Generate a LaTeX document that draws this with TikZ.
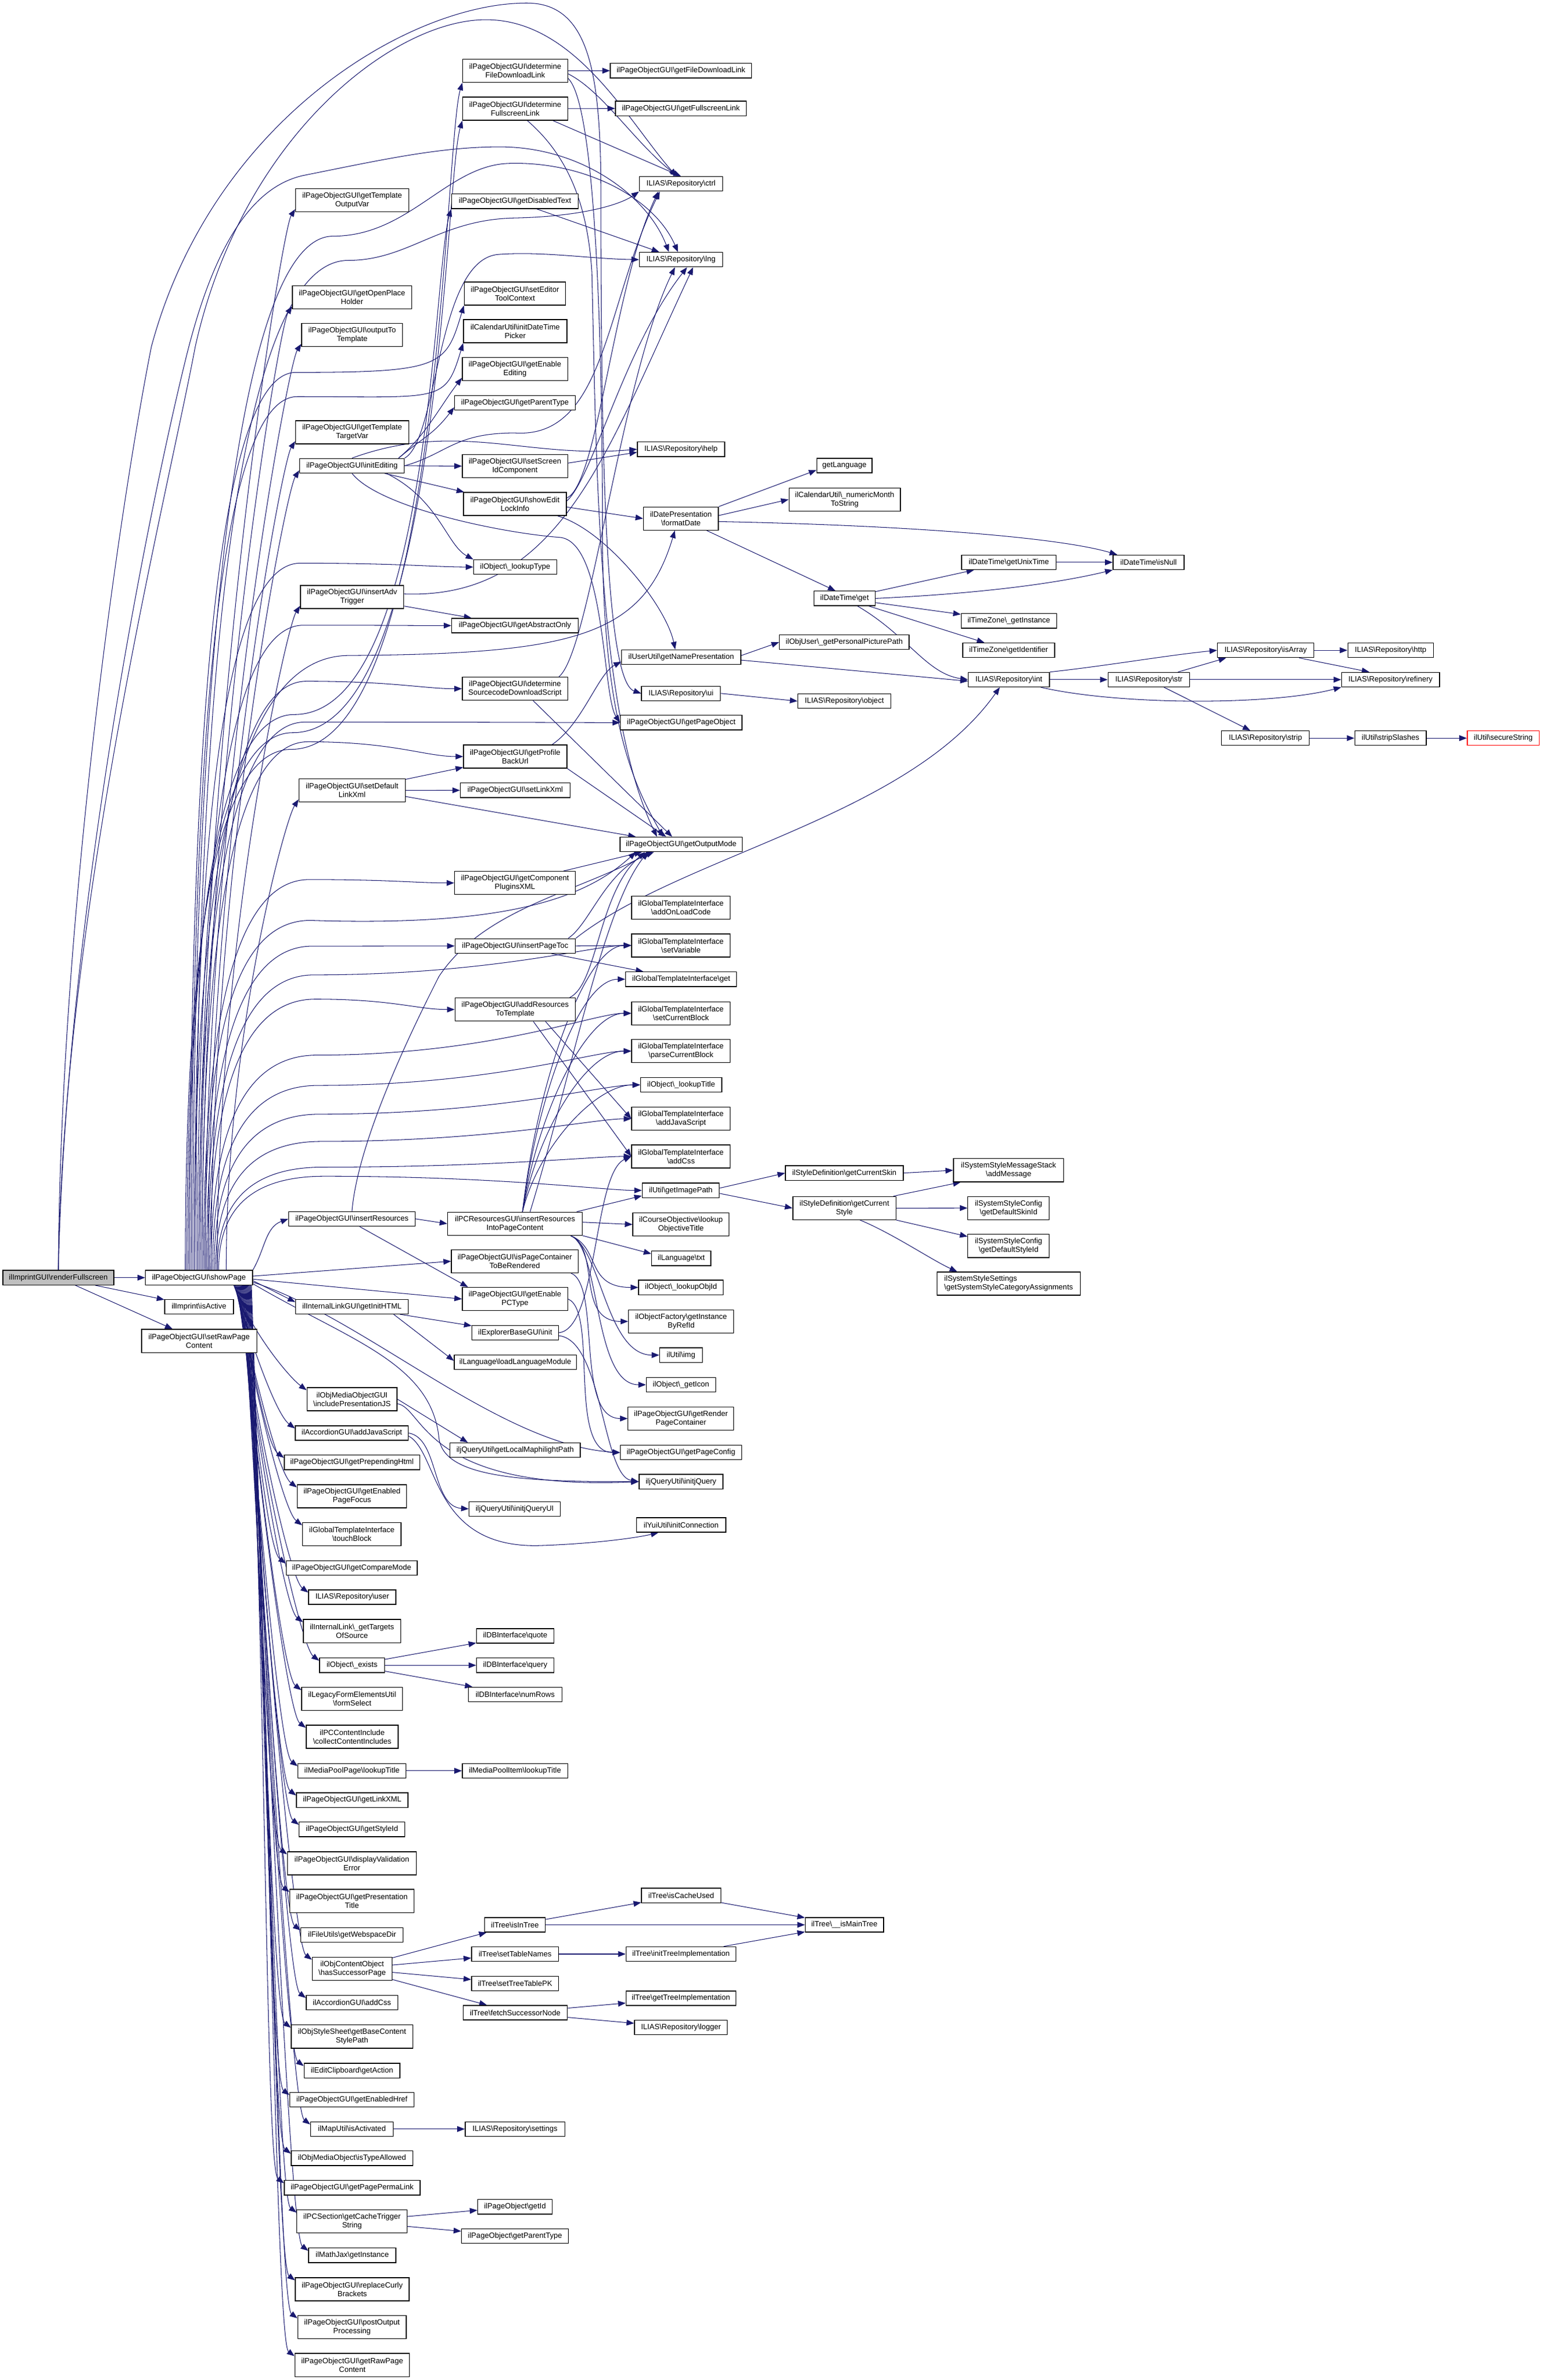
\documentclass[tikz,border=0pt]{standalone}
\usepackage{fontspec}
\setmainfont{Liberation Sans}
\usetikzlibrary{arrows.meta,backgrounds,calc}
\definecolor{edgeblue}{HTML}{191970}
\definecolor{rootgray}{HTML}{BFBFBF}
\newcommand{\bsl}{\textbackslash}

\begin{document}
\begin{tikzpicture}[x=1pt, y=1pt,
  fnbox/.style={draw=black, fill=white, line width=0.5pt, inner sep=0pt, minimum height=9.6pt, align=center, font=\fontsize{5}{5.75}\selectfont},
  fnbox2/.style={fnbox, minimum height=15.3pt},
  callarrow/.style={draw=edgeblue, line width=0.4pt, -{Triangle[length=5pt,width=3.8pt]}},
  spup/.style={to path={let \p1=(\tikztostart), \p2=(\tikztotarget) in .. controls (\x1,{\y1+0.5*((\y2)-(\y1))}) and ({\x2-9pt},{\y2-14pt}) .. (\tikztotarget) \tikztonodes}},
  spdown/.style={to path={let \p1=(\tikztostart), \p2=(\tikztotarget) in .. controls ({\x1+12pt},{\y1+0.45*((\y2)-(\y1))}) and ({\x2-12pt},{\y2+9pt}) .. (\tikztotarget) \tikztonodes}},
  spvia/.style={to path={let \p1=(\tikztostart), \p2=(\tikztotarget) in .. controls (\x1,{\y1+0.55*((#1)-(\y1))}) and ({\x1+15pt},#1) .. ({\x1+70pt},#1) .. controls ({\x2-0.45*((\x2)-(\x1)-70pt)},#1) and ({\x2-25pt},\y2) .. (\tikztotarget) \tikztonodes}},
  spclimb/.style={to path={let \p1=(\tikztostart), \p2=(\tikztotarget) in .. controls (\x1,{\y1+0.55*((#1)-(\y1))}) and ({\x1+15pt},#1) .. ({\x1+70pt},#1) .. controls ({\x2-14pt},#1) and ({\x2-12pt},{\y2-40pt}) .. (\tikztotarget) \tikztonodes}},
  fanrise/.style={to path={let \p1=(\tikztostart), \p2=(\tikztotarget) in .. controls ({\x1+10pt},{\y1+0.5*((\y2)-(\y1))}) and ({\x2-30pt},\y2) .. (\tikztotarget) \tikztonodes}},
  climbto/.style={to path={let \p1=(\tikztostart), \p2=(\tikztotarget) in .. controls ({\x1+18pt},{\y1+15pt}) and ({\x2-14pt},{\y2-18pt}) .. (\tikztotarget) \tikztonodes}},
  dropto/.style={to path={let \p1=(\tikztostart), \p2=(\tikztotarget) in .. controls ({\x1+20pt},{\y1-8pt}) and ({\x2-35pt},\y2) .. (\tikztotarget) \tikztonodes}}]

\useasboundingbox (0,0) rectangle (1019,-1572.2);

% root and first level
\node[fnbox, fill=rootgray, minimum width=73.3pt] (rf) at (38.55,-844) {ilImprintGUI\bsl renderFullscreen};
\node[fnbox, minimum width=70.7pt] (sp) at (131.45,-844) {ilPageObjectGUI\bsl showPage};
\node[fnbox, minimum width=45.4pt] (isActive) at (131.5,-863.3) {ilImprint\bsl isActive};
\node[fnbox2, minimum width=76.1pt] (rawContent) at (131.55,-885.8) {ilPageObjectGUI\bsl setRawPage\\Content};

% second level
\node[fnbox2, minimum width=74.7pt] (tOutVar) at (232.65,-132.25) {ilPageObjectGUI\bsl getTemplate\\OutputVar};
\node[fnbox2, minimum width=78.7pt] (tOpenPH) at (232.55,-196.45) {ilPageObjectGUI\bsl getOpenPlace\\Holder};
\node[fnbox2, minimum width=66.7pt] (outTpl) at (232.65,-221.25) {ilPageObjectGUI\bsl outputTo\\Template};
\node[fnbox2, minimum width=74.7pt] (tTargetVar) at (232.65,-285.55) {ilPageObjectGUI\bsl getTemplate\\TargetVar};
\node[fnbox, minimum width=69.1pt] (initEd) at (232.55,-307.65) {ilPageObjectGUI\bsl initEditing};
\node[fnbox2, minimum width=68.3pt] (advTrig) at (232.65,-394.35) {ilPageObjectGUI\bsl insertAdv\\Trigger};
\node[fnbox2, minimum width=70.2pt] (defLink) at (232.6,-522.15) {ilPageObjectGUI\bsl setDefault\\LinkXml};
\node[fnbox, minimum width=83.6pt] (insRes) at (232.5,-805.15) {ilPageObjectGUI\bsl insertResources};
\node[fnbox, minimum width=74.5pt] (initHTML) at (232.55,-863.15) {ilInternalLinkGUI\bsl getInitHTML};
\node[fnbox2, minimum width=59.5pt] (inclJS) at (232.55,-924.25) {ilObjMediaObjectGUI\\\bsl includePresentationJS};
\node[fnbox, minimum width=74.7pt] (accJS) at (232.45,-946.65) {ilAccordionGUI\bsl addJavaScript};
\node[fnbox, minimum width=89.5pt] (prepHtml) at (232.55,-966.05) {ilPageObjectGUI\bsl getPrependingHtml};
\node[fnbox2, minimum width=72.3pt] (pageFocus) at (232.55,-988.45) {ilPageObjectGUI\bsl getEnabled\\PageFocus};
\node[fnbox2, minimum width=65.1pt] (touchBlock) at (232.45,-1013.45) {ilGlobalTemplateInterface\\\bsl touchBlock};
\node[fnbox, minimum width=86.6pt] (compareMode) at (232.4,-1035.85) {ilPageObjectGUI\bsl getCompareMode};
\node[fnbox, minimum width=57.6pt] (user) at (232.7,-1055.05) {ILIAS\bsl Repository\bsl user};
\node[fnbox2, minimum width=64.3pt] (targets) at (232.55,-1077.45) {ilInternalLink\bsl\_getTargets\\OfSource};
\node[fnbox, minimum width=42.9pt] (exists) at (232.55,-1100.05) {ilObject\bsl\_exists};
\node[fnbox2, minimum width=66.7pt] (formSelect) at (232.65,-1122.35) {ilLegacyFormElementsUtil\\\bsl formSelect};
\node[fnbox2, minimum width=60.8pt] (collect) at (232.7,-1147.25) {ilPCContentInclude\\\bsl collectContentIncludes};
\node[fnbox, minimum width=71.3pt] (mpLookup) at (232.55,-1169.75) {ilMediaPoolPage\bsl lookupTitle};
\node[fnbox, minimum width=73.6pt] (linkXML) at (232.7,-1189.1) {ilPageObjectGUI\bsl getLinkXML};
\node[fnbox, minimum width=69.7pt] (styleId) at (232.55,-1208.45) {ilPageObjectGUI\bsl getStyleId};
\node[fnbox2, minimum width=85.2pt] (validErr) at (232.5,-1230.85) {ilPageObjectGUI\bsl displayValidation\\Error};
\node[fnbox2, minimum width=82pt] (presTitle) at (232.5,-1255.75) {ilPageObjectGUI\bsl getPresentation\\Title};
\node[fnbox, minimum width=67.5pt] (webspace) at (232.55,-1278.15) {ilFileUtils\bsl getWebspaceDir};
\node[fnbox2, minimum width=52.7pt] (succPage) at (232.65,-1300.45) {ilObjContentObject\\\bsl hasSuccessorPage};
\node[fnbox, minimum width=60.5pt] (accCss) at (232.55,-1322.85) {ilAccordionGUI\bsl addCss};
\node[fnbox2, minimum width=80.3pt] (baseStyle) at (232.55,-1345.35) {ilObjStyleSheet\bsl getBaseContent\\StylePath};
\node[fnbox, minimum width=63.3pt] (clipAction) at (232.55,-1367.8) {ilEditClipboard\bsl getAction};
\node[fnbox, minimum width=82pt] (enHref) at (232.5,-1387) {ilPageObjectGUI\bsl getEnabledHref};
\node[fnbox, minimum width=54.6pt] (mapAct) at (232.5,-1406.4) {ilMapUtil\bsl isActivated};
\node[fnbox, minimum width=80.3pt] (typeAllowed) at (232.55,-1425.7) {ilObjMediaObject\bsl isTypeAllowed};
\node[fnbox, minimum width=89.7pt] (permaLink) at (232.65,-1445.2) {ilPageObjectGUI\bsl getPagePermaLink};
\node[fnbox2, minimum width=72.9pt] (cacheTrig) at (232.55,-1467.45) {ilPCSection\bsl getCacheTrigger\\String};
\node[fnbox, minimum width=57.6pt] (mathJax) at (232.7,-1489.85) {ilMathJax\bsl getInstance};
\node[fnbox2, minimum width=75.2pt] (curly) at (232.7,-1512.25) {ilPageObjectGUI\bsl replaceCurly\\Brackets};
\node[fnbox2, minimum width=71.7pt] (postOut) at (232.55,-1537.3) {ilPageObjectGUI\bsl postOutput\\Processing};
\node[fnbox2, minimum width=75.8pt] (rawPage) at (232.7,-1562.3) {ilPageObjectGUI\bsl getRawPage\\Content};

% third level
\node[fnbox2, minimum width=69.3pt] (fileDL) at (340.35,-46.75) {ilPageObjectGUI\bsl determine\\FileDownloadLink};
\node[fnbox2, minimum width=69.3pt] (fullLink) at (340.35,-71.75) {ilPageObjectGUI\bsl determine\\FullscreenLink};
\node[fnbox, minimum width=83.6pt] (disText) at (340.2,-133) {ilPageObjectGUI\bsl getDisabledText};
\node[fnbox2, minimum width=67pt] (toolCtx) at (340.2,-193.95) {ilPageObjectGUI\bsl setEditor\\ToolContext};
\node[fnbox2, minimum width=68.3pt] (dtPicker) at (340.35,-218.75) {ilCalendarUtil\bsl initDateTime\\Picker};
\node[fnbox2, minimum width=69.6pt] (enEdit) at (340.2,-243.75) {ilPageObjectGUI\bsl getEnable\\Editing};
\node[fnbox, minimum width=79.8pt] (parType) at (340.2,-266.05) {ilPageObjectGUI\bsl getParentType};
\node[fnbox2, minimum width=69.6pt] (screenId) at (340.2,-307.9) {ilPageObjectGUI\bsl setScreen\\IdComponent};
\node[fnbox2, minimum width=68pt] (lockInfo) at (340.2,-332.95) {ilPageObjectGUI\bsl showEdit\\LockInfo};
\node[fnbox, minimum width=54.9pt] (lookupType) at (340.35,-374.55) {ilObject\bsl\_lookupType};
\node[fnbox, minimum width=83.6pt] (abstract) at (340.2,-413.25) {ilPageObjectGUI\bsl getAbstractOnly};
\node[fnbox2, minimum width=69.6pt] (srcScript) at (340.2,-454.95) {ilPageObjectGUI\bsl determine\\SourcecodeDownloadScript};
\node[fnbox2, minimum width=68.3pt] (profile) at (340.35,-499.75) {ilPageObjectGUI\bsl getProfile\\BackUrl};
\node[fnbox, minimum width=72.5pt] (setLinkXml) at (340.35,-522.05) {ilPageObjectGUI\bsl setLinkXml};
\node[fnbox2, minimum width=79.8pt] (pluginsXML) at (340.2,-583.25) {ilPageObjectGUI\bsl getComponent\\PluginsXML};
\node[fnbox, minimum width=79.5pt] (pageToc) at (340.35,-624.9) {ilPageObjectGUI\bsl insertPageToc};
\node[fnbox2, minimum width=79.5pt] (addRes) at (340.35,-666.85) {ilPageObjectGUI\bsl addResources\\ToTemplate};
\node[fnbox2, minimum width=89pt] (resContent) at (340.2,-808.35) {ilPCResourcesGUI\bsl insertResources\\IntoPageContent};
\node[fnbox2, minimum width=83.8pt] (pcRender) at (340.1,-833.15) {ilPageObjectGUI\bsl isPageContainer\\ToBeRendered};
\node[fnbox2, minimum width=69.6pt] (pcType) at (340.2,-858.1) {ilPageObjectGUI\bsl getEnable\\PCType};
\node[fnbox, minimum width=57.1pt] (explorer) at (340.35,-880.35) {ilExplorerBaseGUI\bsl init};
\node[fnbox, minimum width=80.6pt] (loadLang) at (340.4,-899.9) {ilLanguage\bsl loadLanguageModule};
\node[fnbox, minimum width=86pt] (maphilight) at (340.3,-957.95) {iljQueryUtil\bsl getLocalMaphilightPath};
\node[fnbox, minimum width=60.3pt] (jqUI) at (340.05,-996.75) {iljQueryUtil\bsl initjQueryUI};
\node[fnbox, minimum width=51.1pt] (quote) at (340.35,-1080.65) {ilDBInterface\bsl quote};
\node[fnbox, minimum width=51.1pt] (query) at (340.35,-1100.05) {ilDBInterface\bsl query};
\node[fnbox, minimum width=61.9pt] (numRows) at (340.35,-1119.35) {ilDBInterface\bsl numRows};
\node[fnbox, minimum width=69.6pt] (mpItem) at (340.2,-1169.75) {ilMediaPoolItem\bsl lookupTitle};
\node[fnbox, minimum width=40.2pt] (isInTree) at (340.2,-1271.5) {ilTree\bsl isInTree};
\node[fnbox, minimum width=57.6pt] (tableNames) at (340.3,-1290.8) {ilTree\bsl setTableNames};
\node[fnbox, minimum width=57.6pt] (treePK) at (340.3,-1310.25) {ilTree\bsl setTreeTablePK};
\node[fnbox, minimum width=68.9pt] (fetchSucc) at (340.35,-1329.55) {ilTree\bsl fetchSuccessorNode};
\node[fnbox, minimum width=65.9pt] (settings) at (340.25,-1406.4) {ILIAS\bsl Repository\bsl settings};
\node[fnbox, minimum width=49.2pt] (poGetId) at (340.2,-1457.8) {ilPageObject\bsl getId};
\node[fnbox, minimum width=70.7pt] (poParType) at (340.25,-1477.1) {ilPageObject\bsl getParentType};

% fourth level
\node[fnbox, minimum width=93.4pt] (getFileDL) at (449.9,-46.7) {ilPageObjectGUI\bsl getFileDownloadLink};
\node[fnbox, minimum width=86.5pt] (getFull) at (449.85,-71.65) {ilPageObjectGUI\bsl getFullscreenLink};
\node[fnbox, minimum width=55pt] (ctrl) at (449.9,-121.5) {ILIAS\bsl Repository\bsl ctrl};
\node[fnbox, minimum width=55pt] (lng) at (449.9,-171.5) {ILIAS\bsl Repository\bsl lng};
\node[fnbox, minimum width=57.6pt] (help) at (449.9,-296.75) {ILIAS\bsl Repository\bsl help};
\node[fnbox2, minimum width=49.5pt] (formatDate) at (449.85,-342.55) {ilDatePresentation\\\bsl formatDate};
\node[fnbox, minimum width=78.7pt] (namePres) at (450.05,-434.05) {ilUserUtil\bsl getNamePresentation};
\node[fnbox, minimum width=52.2pt] (ui) at (449.9,-458.05) {ILIAS\bsl Repository\bsl ui};
\node[fnbox, minimum width=80.3pt] (pageObj) at (450.05,-477.35) {ilPageObjectGUI\bsl getPageObject};
\node[fnbox, minimum width=80.9pt] (outMode) at (450.05,-557.8) {ilPageObjectGUI\bsl getOutputMode};
\node[fnbox2, minimum width=65.1pt] (onLoad) at (449.85,-599.65) {ilGlobalTemplateInterface\\\bsl addOnLoadCode};
\node[fnbox2, minimum width=65.1pt] (setVar) at (449.85,-624.55) {ilGlobalTemplateInterface\\\bsl setVariable};
\node[fnbox, minimum width=73.4pt] (tplGet) at (450,-646.85) {ilGlobalTemplateInterface\bsl get};
\node[fnbox2, minimum width=65.1pt] (setBlock) at (449.85,-669.35) {ilGlobalTemplateInterface\\\bsl setCurrentBlock};
\node[fnbox2, minimum width=65.1pt] (parseBlock) at (449.85,-694.35) {ilGlobalTemplateInterface\\\bsl parseCurrentBlock};
\node[fnbox, minimum width=53.6pt] (lookupTitle) at (450,-716.65) {ilObject\bsl\_lookupTitle};
\node[fnbox2, minimum width=65.1pt] (addJS) at (449.85,-739.05) {ilGlobalTemplateInterface\\\bsl addJavaScript};
\node[fnbox2, minimum width=65.1pt] (addCss) at (449.85,-763.9) {ilGlobalTemplateInterface\\\bsl addCss};
\node[fnbox, minimum width=50.9pt] (imgPath) at (449.75,-786.35) {ilUtil\bsl getImagePath};
\node[fnbox2, minimum width=63.5pt] (objTitle) at (449.85,-808.85) {ilCourseObjective\bsl lookup\\ObjectiveTitle};
\node[fnbox, minimum width=39.1pt] (langTxt) at (450.05,-831.25) {ilLanguage\bsl txt};
\node[fnbox, minimum width=56pt] (lookupObjId) at (449.9,-850.45) {ilObject\bsl\_lookupObjId};
\node[fnbox2, minimum width=69.6pt] (instRefId) at (450,-872.9) {ilObjectFactory\bsl getInstance\\ByRefId};
\node[fnbox, minimum width=28.2pt] (utilImg) at (449.9,-895.15) {ilUtil\bsl img};
\node[fnbox, minimum width=45.8pt] (getIcon) at (449.9,-914.75) {ilObject\bsl\_getIcon};
\node[fnbox2, minimum width=69.9pt] (renderPC) at (449.85,-937.05) {ilPageObjectGUI\bsl getRender\\PageContainer};
\node[fnbox, minimum width=80pt] (pageConfig) at (449.9,-959.5) {ilPageObjectGUI\bsl getPageConfig};
\node[fnbox, minimum width=55.4pt] (initjQ) at (449.9,-978.75) {iljQueryUtil\bsl initjQuery};
\node[fnbox, minimum width=59pt] (initConn) at (450,-1007.35) {ilYuiUtil\bsl initConnection};
\node[fnbox, minimum width=52.5pt] (isCacheUsed) at (450.05,-1252.1) {ilTree\bsl isCacheUsed};
\node[fnbox, minimum width=72.6pt] (initTreeImpl) at (449.9,-1290.8) {ilTree\bsl initTreeImplementation};
\node[fnbox, minimum width=72.6pt] (getTreeImpl) at (449.9,-1320) {ilTree\bsl getTreeImplementation};
\node[fnbox, minimum width=61.4pt] (logger) at (449.9,-1339.3) {ILIAS\bsl Repository\bsl logger};

% deeper levels
\node[fnbox, minimum width=36.5pt] (getLanguage) at (557.85,-307.5) {getLanguage};
\node[fnbox2, minimum width=73.6pt] (numMonth) at (558,-329.95) {ilCalendarUtil\bsl\_numericMonth\\ToString};
\node[fnbox, minimum width=40.6pt] (dtGet) at (557.95,-395.3) {ilDateTime\bsl get};
\node[fnbox, minimum width=85.7pt] (picPath) at (557.75,-424.25) {ilObjUser\bsl\_getPersonalPicturePath};
\node[fnbox, minimum width=61.4pt] (repObject) at (557.8,-463.15) {ILIAS\bsl Repository\bsl object};
\node[fnbox, minimum width=77.8pt] (getSkin) at (557.8,-774.9) {ilStyleDefinition\bsl getCurrentSkin};
\node[fnbox2, minimum width=68.2pt] (getStyle) at (557.85,-798.05) {ilStyleDefinition\bsl getCurrent\\Style};
\node[fnbox, minimum width=51.7pt] (isMainTree) at (557.85,-1271.5) {ilTree\bsl\_\_isMainTree};
\node[fnbox, minimum width=62.4pt] (unixTime) at (666.5,-371.45) {ilDateTime\bsl getUnixTime};
\node[fnbox, minimum width=63pt] (tzInst) at (666.5,-410.15) {ilTimeZone\bsl\_getInstance};
\node[fnbox, minimum width=60.7pt] (tzId) at (666.35,-429.55) {ilTimeZone\bsl getIdentifier};
\node[fnbox, minimum width=53.6pt] (repInt) at (666.5,-448.95) {ILIAS\bsl Repository\bsl int};
\node[fnbox2, minimum width=72.8pt] (addMsg) at (666.3,-773.05) {ilSystemStyleMessageStack\\\bsl addMessage};
\node[fnbox2, minimum width=53.8pt] (skinId) at (666.3,-798) {ilSystemStyleConfig\\\bsl getDefaultSkinId};
\node[fnbox2, minimum width=53.8pt] (styleIdCfg) at (666.3,-823.05) {ilSystemStyleConfig\\\bsl getDefaultStyleId};
\node[fnbox2, minimum width=94.7pt, align=left] (catAssign) at (666.35,-847.95) {ilSystemStyleSettings\\\bsl getSystemStyleCategoryAssignments};
\node[fnbox, minimum width=47pt] (isNull) at (758.8,-371.45) {ilDateTime\bsl isNull};
\node[fnbox, minimum width=54pt] (repStr) at (759,-448.95) {ILIAS\bsl Repository\bsl str};
\node[fnbox, minimum width=63.7pt] (isArray) at (836.15,-429.55) {ILIAS\bsl Repository\bsl isArray};
\node[fnbox, minimum width=58pt] (strip) at (836,-487.6) {ILIAS\bsl Repository\bsl strip};
\node[fnbox, minimum width=56.6pt] (http) at (918.7,-429.55) {ILIAS\bsl Repository\bsl http};
\node[fnbox, minimum width=64.7pt] (refinery) at (918.65,-448.95) {ILIAS\bsl Repository\bsl refinery};
\node[fnbox, minimum width=47.3pt] (stripSl) at (918.65,-487.6) {ilUtil\bsl stripSlashes};
\node[fnbox, draw=red, minimum width=47.7pt] (secure) at (993.15,-487.6) {ilUtil\bsl secureString};

\begin{scope}[on background layer]
\fill[white] (0,0) rectangle (1019,-1572.2);

% calls of the root
\draw[callarrow] (rf.east) -- (sp.west);
\draw[callarrow] (rf) -- (isActive);
\draw[callarrow] (rf) -- (rawContent);
\draw[callarrow] (rf.north) .. controls (40,-600) and (80,-330) .. (100,-229) .. controls (140,-80) and (270,-2) .. (348,-2) .. controls (390,-2) and (397,-50) .. (397,-130) .. controls (397,-300) and (400,-450) .. (ui.west);
\draw[callarrow] (rf.north) .. controls (42,-600) and (110,-330) .. (129,-229) .. controls (160,-90) and (260,-13) .. (321,-13) .. controls (380,-13) and (415,-80) .. ([xshift=-3pt]ctrl.north);
\draw[callarrow] (rf.north) .. controls (44,-600) and (100,-330) .. (122,-240) .. controls (140,-165) and (165,-124) .. (200,-116) .. controls (250,-106) and (290,-97) .. (330,-97) .. controls (385,-97) and (428,-130) .. ([xshift=-8pt]lng.north);

% calls of showPage
\foreach \t/\s in {tOutVar/0, tOpenPH/2, outTpl/4, tTargetVar/6, initEd/8, advTrig/12, defLink/18}
  \draw[callarrow, spup] ([xshift=\s pt]sp.north) to ([yshift=2pt]\t.south west);
\foreach \t [count=\i] in {inclJS, accJS, prepHtml, pageFocus, touchBlock, compareMode, user, targets, exists, formSelect, collect, mpLookup, linkXML, styleId, validErr, presTitle, webspace, succPage, accCss, baseStyle, clipAction, enHref, mapAct, typeAllowed, permaLink, cacheTrig, mathJax, curly, postOut, rawPage}
  \draw[callarrow, spdown] ([xshift={(0.4*\i-13)*1pt}]sp.south east) to ([yshift=-2pt]\t.north west);
\draw[callarrow] (sp.north east) to[out=60, in=200] (insRes.west);
\draw[callarrow] ([yshift=-2pt]sp.east) -- ([yshift=-2pt]initHTML.north west);
\draw[callarrow] ([yshift=1pt]sp.east) -- (pcRender.west);
\draw[callarrow] ([yshift=-1pt]sp.east) -- (pcType.west);
\foreach \t/\s/\yp in {fileDL/-9/-495pt, fullLink/-8/-484pt, disText/-7/-472pt, toolCtx/-6/-246pt, dtPicker/-5/-262pt}
  \draw[callarrow, spclimb=\yp] ([xshift=\s pt]sp.north) to (\t.south west);
\foreach \t/\s/\yp in {lookupType/-3/-372pt, abstract/-1/-413pt, srcScript/1/-450pt, pageObj/0/-477pt, profile/2/-490pt, pluginsXML/3/-581pt, pageToc/5/-625pt, setVar/6/-644pt, addRes/7/-660pt, setBlock/8/-697pt, parseBlock/9/-717pt, lookupTitle/10/-736pt, addJS/11/-754pt, addCss/12/-771pt, imgPath/13/-777pt}
  \draw[callarrow, spvia=\yp] ([xshift=\s pt]sp.north) to (\t.west);
\draw[callarrow] ([xshift=-3pt]sp.north) .. controls (128,-600) and (150,-434) .. (230,-433) .. controls (380,-432) and (425,-420) .. ([xshift=-4pt]formatDate.south);
\draw[callarrow] ([xshift=4pt]sp.north) .. controls (135,-700) and (150,-608) .. (205,-608) .. controls (330,-612) and (385,-595) .. ([xshift=-30pt]outMode.south);
\draw[callarrow] ([xshift=-4pt]sp.north) .. controls (127,-500) and (150,-156) .. (220,-156) .. controls (270,-156) and (295,-110) .. (335,-108) .. controls (385,-106) and (432,-130) .. ([xshift=-2pt]lng.north);
\draw[callarrow] ([xshift=-2pt]sp.north) .. controls (129,-500) and (150,-172) .. (230,-172) .. controls (270,-172) and (290,-145) .. (340,-144) .. controls (385,-143) and (410,-135) .. (ctrl.south west);
\draw[callarrow] ([yshift=-3pt]sp.east) .. controls (240,-870) and (330,-955) .. (pageConfig.west);
\draw[callarrow] ([yshift=-4pt]sp.east) .. controls (230,-885) and (285,-900) .. (290,-950) .. controls (293,-975) and (340,-979) .. (initjQ.west);

% calls of the second level
\draw[callarrow] (initEd.east) -- (screenId.west);
\draw[callarrow] (initEd) -- (lockInfo);
\draw[callarrow] (initEd.north) to[out=20, in=185] (help.west);
\foreach \t in {enEdit, parType}
  \draw[callarrow, climbto] ([xshift=-4pt]initEd.north east) to ([yshift=2pt]\t.south west);
\draw[callarrow] ([xshift=-12pt]initEd.south east) .. controls (290,-330) and (295,-360) .. (lookupType.north west);
\draw[callarrow] (initEd.north east) .. controls (290,-290) and (288,-170) .. (330,-168) .. controls (360,-166) and (390,-171) .. (lng.west);
\draw[callarrow] (initEd.east) .. controls (295,-300) and (300,-286) .. (340,-286) .. controls (400,-290) and (400,-200) .. ([xshift=-14pt]ctrl.south);
\draw[callarrow] (initEd.south) .. controls (250,-335) and (330,-352) .. (370,-355) .. controls (400,-358) and (398,-460) .. (pageObj.west);
\draw[callarrow] (advTrig) -- (abstract);
\draw[callarrow] ([yshift=2pt]advTrig.east) .. controls (370,-396) and (400,-300) .. ([xshift=8pt]lng.south);
\draw[callarrow] (defLink) -- (profile);
\draw[callarrow] (defLink.east) -- (setLinkXml.west);
\draw[callarrow] ([yshift=-4pt]defLink.east) -- ([xshift=-30pt]outMode.north);
\draw[callarrow] (insRes.east) -- (resContent.west);
\draw[callarrow] ([xshift=5pt]insRes.south) -- ([xshift=4pt]pcType.north west);
\draw[callarrow] (insRes.north) .. controls (236,-760) and (262,-700) .. (290,-645) .. controls (320,-600) and (380,-590) .. ([xshift=-20pt]outMode.south);
\draw[callarrow] (initHTML) -- (explorer);
\draw[callarrow] ([xshift=-10pt]initHTML.south east) -- ([yshift=1pt]loadLang.west);
\draw[callarrow] (inclJS.east) -- ([xshift=12pt]maphilight.north west);
\draw[callarrow] ([yshift=-3pt]inclJS.east) .. controls (280,-930) and (280,-985) .. (initjQ.west);
\draw[callarrow] (accJS.east) .. controls (290,-950) and (285,-995) .. (jqUI.west);
\draw[callarrow] ([yshift=-2pt]accJS.east) .. controls (290,-960) and (285,-1022) .. (355,-1021) .. controls (390,-1020) and (420,-1016) .. ([xshift=-15pt]initConn.south);
\foreach \t in {quote, query, numRows}
  \draw[callarrow] (exists) -- (\t);
\draw[callarrow] (mpLookup) -- (mpItem);
\foreach \t in {isInTree, tableNames, treePK, fetchSucc}
  \draw[callarrow] (succPage) -- (\t);
\draw[callarrow] (mapAct) -- (settings);
\draw[callarrow] (cacheTrig) -- (poGetId);
\draw[callarrow] (cacheTrig) -- (poParType);

% calls of the third level
\draw[callarrow] (fileDL.east) -- (getFileDL.west);
\draw[callarrow] (fullLink.east) -- (getFull.west);
\draw[callarrow] ([yshift=-2pt]fileDL.east) .. controls (398,-60) and (420,-95) .. ([xshift=-2pt]ctrl.north);
\draw[callarrow] ([xshift=-10pt]fullLink.south east) -- (ctrl.north);
\draw[callarrow] ([yshift=-5pt]fileDL.east) .. controls (395,-70) and (398,-250) .. (398,-350) .. controls (398,-480) and (420,-520) .. ([xshift=-12pt]outMode.north);
\draw[callarrow] ([xshift=8pt]fullLink.south) .. controls (372,-100) and (388,-130) .. (391,-180) .. controls (394,-300) and (394,-470) .. ([xshift=-16pt]outMode.north);
\draw[callarrow] (disText) -- (lng);
\draw[callarrow] ([yshift=2pt]screenId.east) -- ([yshift=-2pt]help.west);
\draw[callarrow] ([yshift=-2pt]lockInfo.east) -- (formatDate.west);
\draw[callarrow] ([yshift=4pt]lockInfo.east) .. controls (395,-320) and (405,-190) .. ([xshift=-15pt]ctrl.south);
\draw[callarrow] ([yshift=2pt]lockInfo.east) .. controls (392,-315) and (412,-230) .. ([xshift=4pt]lng.south);
\draw[callarrow] ([xshift=-6pt]lockInfo.south east) .. controls (400,-350) and (440,-400) .. ([xshift=-4pt]namePres.north);
\draw[callarrow] ([xshift=-10pt]profile.north east) .. controls (385,-478) and (395,-445) .. ([yshift=2pt]namePres.south west);
\draw[callarrow] (profile.south east) -- ([xshift=-10pt]outMode.north);
\draw[callarrow] ([xshift=12pt]srcScript.south) -- ([xshift=-6pt]outMode.north);
\draw[callarrow] ([xshift=-6pt]srcScript.north east) .. controls (390,-430) and (410,-250) .. ([xshift=-4pt]lng.south);
\draw[callarrow] ([xshift=-8pt]pluginsXML.north east) -- ([xshift=-26pt]outMode.south);
\draw[callarrow] (pageToc.east) -- (setVar.west);
\draw[callarrow] ([xshift=-16pt]pageToc.south east) -- ([xshift=12pt]tplGet.north west);
\draw[callarrow] ([xshift=-5pt]pageToc.north east) .. controls (390,-610) and (400,-575) .. ([xshift=-18pt]outMode.south);
\draw[callarrow] (pageToc.north east) .. controls (450,-565) and (600,-540) .. ([xshift=-6pt]repInt.south);
\draw[callarrow] ([xshift=-4pt]addRes.north east) .. controls (395,-650) and (395,-590) .. ([xshift=-24pt]outMode.south);
\draw[callarrow] ([xshift=-20pt]addRes.south east) -- (addJS.west);
\draw[callarrow] ([xshift=-28pt]addRes.south east) -- (addCss.west);
\foreach \t in {setVar, tplGet, setBlock, parseBlock, lookupTitle}
  \draw[callarrow, fanrise] ([xshift=5pt]resContent.north) to (\t.west);
\draw[callarrow] ([xshift=10pt]resContent.north) .. controls (375,-720) and (398,-600) .. ([xshift=-22pt]outMode.south);
\draw[callarrow] ([xshift=-4pt]resContent.north east) -- ([yshift=1.5pt]imgPath.south west);
\draw[callarrow] ([yshift=1pt]resContent.east) -- (objTitle.west);
\draw[callarrow] (resContent.south east) -- ([yshift=-2pt]langTxt.north west);
\foreach \t in {lookupObjId, instRefId, utilImg, getIcon}
  \draw[callarrow, dropto] ([xshift=-8pt]resContent.south east) to (\t.west);
\draw[callarrow, dropto] ([xshift=-5pt]pcRender.south east) to (renderPC.west);
\draw[callarrow, dropto] (pcType.east) to (pageConfig.west);
\draw[callarrow] (explorer.east) .. controls (395,-878) and (392,-775) .. (addCss.west);
\draw[callarrow] ([yshift=-2pt]explorer.east) .. controls (398,-885) and (398,-975) .. (initjQ.west);

% calls further right
\draw[callarrow] (formatDate.north east) -- ([yshift=2pt]getLanguage.south west);
\draw[callarrow] ([yshift=2pt]formatDate.east) -- (numMonth.west);
\draw[callarrow] ([yshift=-2pt]formatDate.east) .. controls (600,-347) and (700,-355) .. ([xshift=3pt]isNull.north west);
\draw[callarrow] ([xshift=-8pt]formatDate.south east) -- ([xshift=-6pt]dtGet.north);
\draw[callarrow] ([yshift=1pt]namePres.east) -- (picPath.west);
\draw[callarrow] ([yshift=-2pt]namePres.east) -- ([yshift=-1pt]repInt.west);
\draw[callarrow] (ui.east) -- (repObject.west);
\draw[callarrow] (dtGet) -- (unixTime);
\draw[callarrow] (dtGet.east) .. controls (650,-392) and (700,-385) .. (isNull.south west);
\draw[callarrow] (dtGet) -- (tzInst);
\draw[callarrow] (dtGet) -- (tzId);
\draw[callarrow] ([xshift=-12pt]dtGet.south east) .. controls (600,-420) and (612,-445) .. (repInt.west);
\draw[callarrow] (unixTime.east) -- (isNull.west);
\draw[callarrow] (repInt.east) -- (repStr.west);
\draw[callarrow] (repInt.north east) .. controls (730,-440) and (770,-433) .. (isArray.west);
\draw[callarrow] ([xshift=-6pt]repInt.south east) .. controls (740,-466) and (840,-466) .. (refinery.south west);
\draw[callarrow] ([xshift=-8pt]repStr.north east) -- ([xshift=6pt]isArray.south west);
\draw[callarrow] (repStr.east) -- (refinery.west);
\draw[callarrow] ([xshift=10pt]repStr.south) -- ([xshift=-10pt]strip.north);
\draw[callarrow] (isArray.east) -- (http.west);
\draw[callarrow] ([xshift=-10pt]isArray.south east) -- ([xshift=-14pt]refinery.north);
\draw[callarrow] (strip.east) -- (stripSl.west);
\draw[callarrow] (stripSl.east) -- (secure.west);
\draw[callarrow] ([yshift=1.5pt]imgPath.east) -- (getSkin.west);
\draw[callarrow] ([yshift=-2pt]imgPath.east) -- (getStyle.west);
\draw[callarrow] (getSkin.east) -- (addMsg.west);
\draw[callarrow] ([xshift=-2pt]getStyle.north east) -- ([xshift=5pt]addMsg.south west);
\draw[callarrow] (getStyle.east) -- (skinId.west);
\draw[callarrow] (getStyle) -- (styleIdCfg);
\draw[callarrow] ([xshift=-24pt]getStyle.south east) .. controls (590,-815) and (615,-832) .. ([xshift=-34pt]catAssign.north);
\draw[callarrow] (isInTree) -- (isCacheUsed);
\draw[callarrow] (isInTree.east) -- (isMainTree.west);
\draw[callarrow] (isCacheUsed) -- (isMainTree);
\draw[callarrow] (tableNames.east) -- (initTreeImpl.west);
\draw[callarrow] (initTreeImpl) -- (isMainTree);
\draw[callarrow] (fetchSucc) -- (getTreeImpl);
\draw[callarrow] (fetchSucc) -- (logger);
\end{scope}
\end{tikzpicture}
\end{document}
